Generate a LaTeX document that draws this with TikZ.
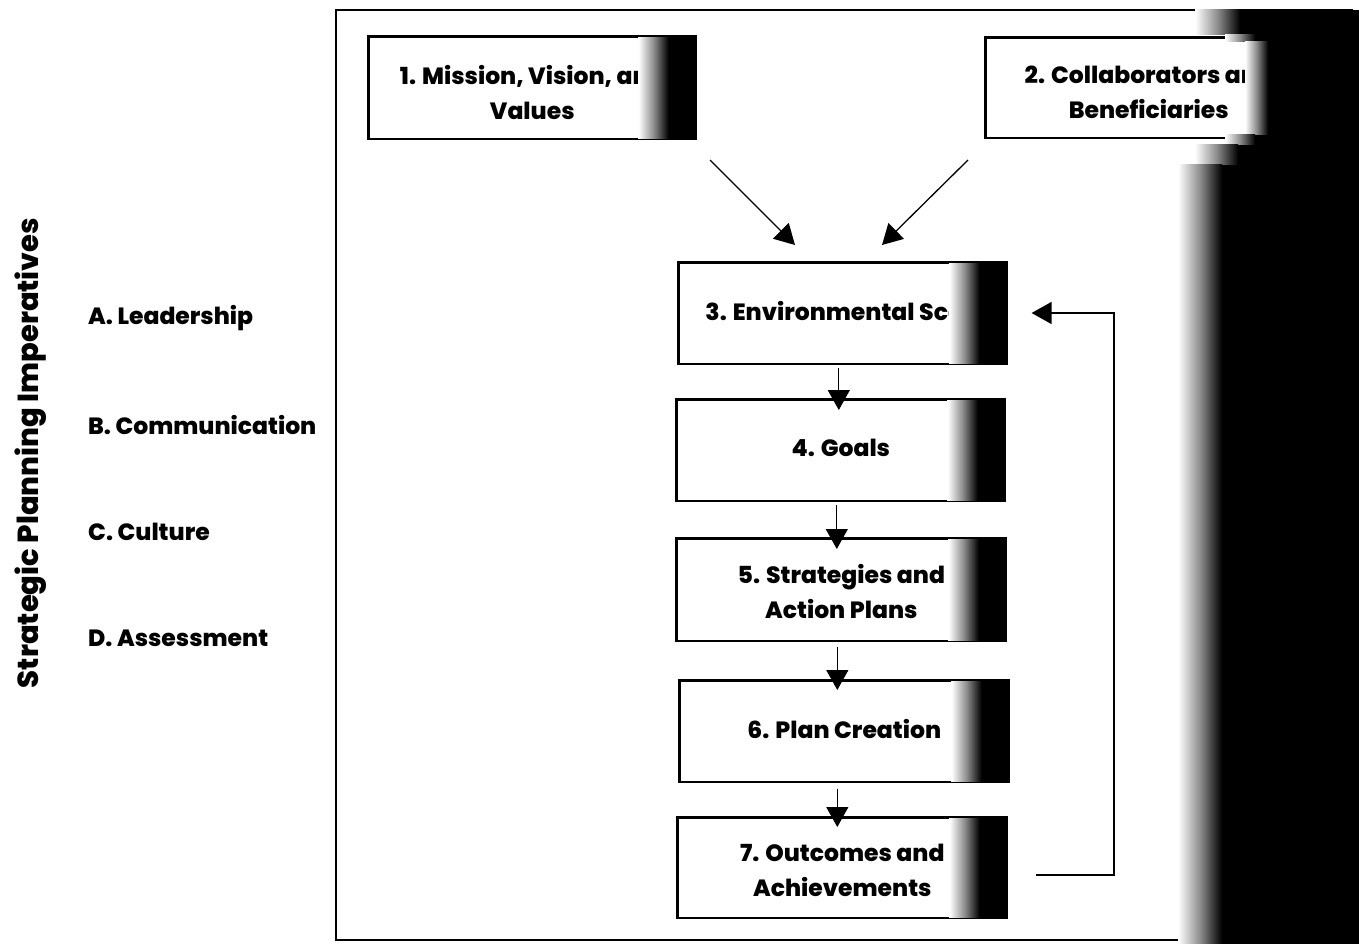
\documentclass[tikz,border=0pt]{standalone}
\usepackage{fontspec}
\setmainfont{Poppins}[BoldFont={* ExtraBold}]
\usetikzlibrary{arrows.meta}
\begin{document}
\begin{tikzpicture}[x=1pt,y=-1pt,
  box/.style={draw, line width=1.6pt, anchor=north west, inner sep=0pt},
  txt/.style={align=center, font=\bfseries\fontsize{23.5}{35}\selectfont, inner sep=0pt},
  lbl/.style={anchor=west, font=\bfseries\fontsize{23.5}{25}\selectfont, inner sep=0pt},
  flow/.style={line width=1.3pt, -{Triangle[length=20pt,width=22pt]}},
  fade/.style={left color=white, right color=black, middle color=black!45, draw=none}]
\useasboundingbox (0,0) rectangle (1359,944);
\fill[white] (0,0) rectangle (1359,944);

% outer frame
\draw[line width=1.6pt] (336,10) rectangle (1352,940);

% side title and imperatives
\node[rotate=90, font=\bfseries\fontsize{29}{32}\selectfont, inner sep=0pt] (title) at (31,453) {Strategic Planning Imperatives};
\node[lbl] (la) at (88,318) {A. Leadership};
\node[lbl] (lb) at (88,425) {B. Communication};
\node[lbl] (lc) at (88,532) {C. Culture};
\node[lbl] (ld) at (88,638) {D. Assessment};

% process boxes
\node[box, minimum width=327pt, minimum height=102pt] (b1) at (368,36) {};
\node[box, minimum width=326pt, minimum height=100pt] (b2) at (985,37) {};
\node[box, minimum width=328pt, minimum height=101pt] (b3) at (678,262) {};
\node[box, minimum width=328pt, minimum height=101pt] (b4) at (676,399) {};
\node[box, minimum width=329pt, minimum height=102pt] (b5) at (676,538) {};
\node[box, minimum width=329pt, minimum height=101pt] (b6) at (679,680) {};
\node[box, minimum width=329pt, minimum height=100pt] (b7) at (677,817) {};

% box captions
\node[txt] (t1) at ([yshift=-4.5pt]b1.center) {1. Mission, Vision, and\\Values};
\node[txt] (t2) at ([yshift=-5pt]b2.center) {2. Collaborators and\\Beneficiaries};
\node[txt] (t3) at ([yshift=2pt]b3.center) {3. Environmental Scan};
\node[txt] (t4) at ([yshift=2pt]b4.center) {4. Goals};
\node[txt] (t5) at ([yshift=-1.5pt]b5.center) {5. Strategies and\\Action Plans};
\node[txt] (t6) at ([yshift=2pt]b6.center) {6. Plan Creation};
\node[txt] (t7) at ([yshift=-2.5pt]b7.center) {7. Outcomes and\\Achievements};

% darkened right ends of the boxes, then their outlines
\foreach \b in {b1,b2,b3,b4,b5,b6,b7}{
  \shade[fade] ([xshift=-58pt]\b.north east) rectangle ([xshift=-28pt]\b.south east);
  \fill[black] ([xshift=-28pt]\b.north east) rectangle (\b.south east);
  \draw[line width=1.6pt] (\b.north west) rectangle (\b.south east);
}

% dark band along the right edge
\foreach \ya/\yb/\xa/\xb in {10/35/1195/1240, 35/42/1225/1255, 42/135/1245/1268,
    135/145/1225/1255, 145/165/1195/1238, 165/944/1178/1222}{
  \shade[fade] (\xa,\ya) rectangle (\xb,\yb);
  \fill[black] (\xb,\ya) rectangle (1359,\yb);
}

% connectors
\coordinate (s1) at (710,160);
\coordinate (t1e) at (795,245);
\coordinate (s2) at (968,160);
\coordinate (t2e) at (882,245);
\draw[flow] (s1) -- (t1e);
\draw[flow] (s2) -- (t2e);
\draw[flow] ([xshift=-4pt,yshift=-3pt]b3.south) coordinate (a34) -- ([yshift=-11pt]a34 |- b4.north);
\draw[flow] ([xshift=-4pt,yshift=-3pt]b4.south) coordinate (a45) -- ([yshift=-11pt]a45 |- b5.north);
\draw[flow] ([xshift=-4pt,yshift=-5pt]b5.south) coordinate (a56) -- ([yshift=-10pt]a56 |- b6.north);
\draw[flow] ([xshift=-7pt,yshift=-6pt]b6.south) coordinate (a67) -- ([yshift=-10pt]a67 |- b7.north);
\coordinate (fb) at (1036,875);
\draw[flow] (fb) -- (1114,875) -- (1114,313) -- ([xshift=24pt]b3.east |- 0,313);
\end{tikzpicture}
\end{document}
